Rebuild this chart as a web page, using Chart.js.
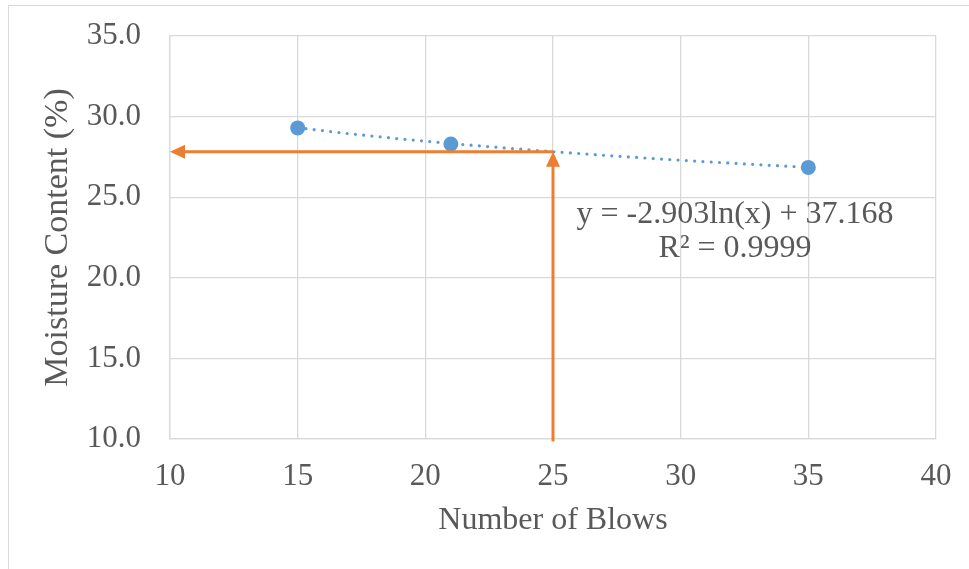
<!DOCTYPE html>
<html>
<head>
<meta charset="utf-8">
<script src="https://cdn.jsdelivr.net/npm/chart.js@4.4.1/dist/chart.umd.min.js"></script>
<style>
  html, body { margin: 0; padding: 0; background: #ffffff; overflow: hidden; }
  #frame { position: absolute; left: 8px; top: 5px; width: 980px; height: 600px; border: 1.5px solid #d9d9d9; box-sizing: border-box; }
  #wrap { position: absolute; left: 0; top: 0; width: 969px; height: 569px; }
</style>
</head>
<body>
<div id="frame"></div>
<div id="wrap"><canvas id="c" width="969" height="569"></canvas></div>
<script>
// ---- data ----
const blows = [15, 21, 35];
const moisture = [29.3, 28.3, 26.85];

// logarithmic trendline
const trendX = [15, 17, 19, 21, 23, 25, 27, 29, 31, 33, 35];
const trendY = [29.31, 28.94, 28.62, 28.33, 28.07, 27.82, 27.60, 27.39, 27.20, 27.02, 26.85];

// orange guide arrows: up from 25 blows, then left to the y axis
const arrowX = [25, 25, 10];
const arrowY = [10, 27.82, 27.82];

const xTickValues = [10, 15, 20, 25, 30, 35, 40];
const yTickValues = [10, 15, 20, 25, 30, 35];

const equationLines = ['y = -2.903ln(x) + 37.168', 'R\u00B2 = 0.9999'];
const equationAnchorX = 32.13;          // data x of the label centre
const equationBaselines = [23.40, 21.32]; // data y of each line's baseline

const FONT = '"Liberation Serif", "Times New Roman", serif';
const TEXT = '#595959';
const GRID = '#d9d9d9';
const BLUE = '#5b9bd5';
const ORANGE = '#ed7d31';

const arrowPlugin = {
  id: 'arrows',
  afterDatasetsDraw(chart) {
    const {ctx, scales: {x, y}} = chart;
    const pts = arrowX.map((v, i) => ({px: x.getPixelForValue(v), py: y.getPixelForValue(arrowY[i])}));
    const headLen = 15, headHalf = 7;
    ctx.save();
    ctx.strokeStyle = ORANGE;
    ctx.fillStyle = ORANGE;
    ctx.lineWidth = 3;
    ctx.lineCap = 'butt';
    const drawArrow = (a, b, startExt) => {
      const dx = b.px - a.px, dy = b.py - a.py;
      const len = Math.hypot(dx, dy);
      const ux = dx / len, uy = dy / len;
      const bx = b.px - ux * headLen, by = b.py - uy * headLen;
      ctx.beginPath();
      ctx.moveTo(a.px - ux * startExt, a.py - uy * startExt);
      ctx.lineTo(bx + ux * 1, by + uy * 1);
      ctx.stroke();
      ctx.beginPath();
      ctx.moveTo(b.px, b.py);
      ctx.lineTo(bx - uy * headHalf, by + ux * headHalf);
      ctx.lineTo(bx + uy * headHalf, by - ux * headHalf);
      ctx.closePath();
      ctx.fill();
    };
    drawArrow(pts[0], pts[1], 2.5);
    drawArrow(pts[1], pts[2], 0);
    ctx.restore();
  },
  afterDraw(chart) {
    const {ctx, scales: {x, y}} = chart;
    ctx.save();
    ctx.font = '32px ' + FONT;
    ctx.fillStyle = TEXT;
    ctx.textAlign = 'center';
    ctx.textBaseline = 'alphabetic';
    const cx = x.getPixelForValue(equationAnchorX);
    equationLines.forEach((t, i) => {
      ctx.fillText(t, cx, y.getPixelForValue(equationBaselines[i]));
    });
    ctx.restore();
  }
};

new Chart(document.getElementById('c'), {
  type: 'scatter',
  data: {
    datasets: [
      {
        label: 'Trendline',
        data: trendX.map((v, i) => ({x: v, y: trendY[i]})),
        showLine: true,
        borderColor: BLUE,
        borderWidth: 3.2,
        borderDash: [0, 8.3],
        borderCapStyle: 'round',
        pointRadius: 0,
        pointHoverRadius: 0,
        tension: 0,
        order: 1
      },
      {
        label: 'Moisture Content',
        data: blows.map((v, i) => ({x: v, y: moisture[i]})),
        backgroundColor: BLUE,
        borderColor: BLUE,
        borderWidth: 0,
        pointRadius: 7.5,
        pointHoverRadius: 7.5,
        order: 2
      }
    ]
  },
  options: {
    responsive: false,
    animation: false,
    events: [],
    layout: { padding: { left: 0, right: 33, top: 36, bottom: 0 } },
    plugins: { legend: { display: false }, tooltip: { enabled: false } },
    scales: {
      x: {
        type: 'linear',
        min: 10, max: 40,
        afterBuildTicks: s => { s.ticks = xTickValues.map(v => ({value: v})); },
        afterFit: s => { s.height = 130; s.paddingLeft = 0; s.paddingRight = 0; },
        grid: { color: GRID, lineWidth: 1.3, drawTicks: false },
        border: { display: true, color: GRID, width: 1.3 },
        ticks: { color: TEXT, font: { family: FONT, size: 31 }, padding: 19, maxRotation: 0 },
        title: { display: true, text: 'Number of Blows', color: TEXT, font: { family: FONT, size: 32 }, padding: { top: 0, bottom: 29 } }
      },
      y: {
        type: 'linear',
        min: 10, max: 35,
        afterBuildTicks: s => { s.ticks = yTickValues.map(v => ({value: v})); },
        afterFit: s => { s.width = 170; s.paddingTop = 0; s.paddingBottom = 0; },
        grid: { color: GRID, lineWidth: 1.3, drawTicks: false },
        border: { display: true, color: GRID, width: 1.3 },
        ticks: { color: TEXT, font: { family: FONT, size: 31 }, padding: 29, callback: v => Number(v).toFixed(1) },
        title: { display: true, text: 'Moisture Content (%)', color: TEXT, font: { family: FONT, size: 34 }, padding: { top: 38, bottom: 0 } }
      }
    }
  },
  plugins: [arrowPlugin]
});
</script>
</body>
</html>
